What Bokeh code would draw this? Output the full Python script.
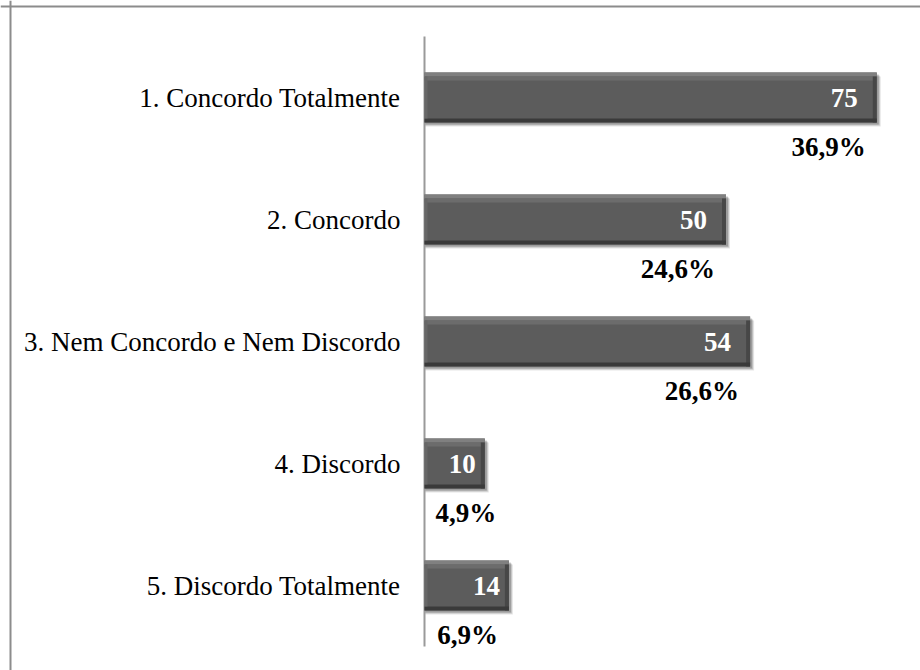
from bokeh.plotting import figure
from bokeh.models import ColumnDataSource, Range1d, Span
from bokeh.core.properties import value
from bokeh.embed import file_html
from bokeh.resources import INLINE

categories = ["1. Concordo Totalmente", "2. Concordo", "3. Nem Concordo e Nem Discordo",
              "4. Discordo", "5. Discordo Totalmente"]
counts = [75, 50, 54, 10, 14]
percents = ["36,9%", "24,6%", "26,6%", "4,9%", "6,9%"]

W, H = 920, 670
PX_X = 6.03          # pixels per count unit
PX_Y = 122.0         # pixels per category band
AXIS_PX = 424        # x pixel of the category axis
FIRST_PX = 97        # y pixel of first category centre

x0 = -AXIS_PX / PX_X
x1 = (W - AXIS_PX) / PX_X
y1 = FIRST_PX / PX_Y
y0 = -(H - FIRST_PX) / PX_Y

p = figure(width=W, height=H, output_backend="svg", toolbar_location=None,
           x_range=Range1d(x0, x1), y_range=Range1d(y0, y1),
           min_border=0, min_border_left=0, min_border_right=0,
           min_border_top=0, min_border_bottom=0)
p.axis.visible = False
p.grid.visible = False
p.outline_line_color = None
p.background_fill_color = "white"
p.border_fill_color = "white"

ys = [-i for i in range(len(categories))]
bh = 50 / PX_Y
dxp = 1 / PX_X
dyp = 1 / PX_Y

src = ColumnDataSource(dict(
    y=ys, v=counts, cat=categories, pct=percents,
    zero=[0] * len(counts),
    top=[y + bh / 2 for y in ys], bot=[y - bh / 2 for y in ys],
))

# page border (top and left only)
p.add_layout(Span(location=x0 + 10 / PX_X, dimension="height", line_color="#8c8c8c", line_width=2))
p.add_layout(Span(location=y1 - 6 / PX_Y, dimension="width", line_color="#8c8c8c", line_width=2))

# category axis line
p.segment(x0=0, y0=0.5, x1=0, y1=-(len(categories) - 0.5), line_color="#9a9a9a", line_width=2)

# soft shadow
for k, a in [(4, 0.10), (3, 0.15), (2, 0.2)]:
    p.quad(left=[dxp * 1] * 5, right=[v + k * dxp for v in counts],
           top=[y + bh / 2 - k * dyp for y in ys], bottom=[y - bh / 2 - k * dyp for y in ys],
           fill_color="black", fill_alpha=a, line_color=None)

# main bars
p.hbar(y="y", left="zero", right="v", height=bh, source=src,
       fill_color="#5c5c5c", line_color=None)
# bevel: top light strip, bottom & right dark strips
p.quad(left=[0] * 5, right=counts, top=src.data["top"],
       bottom=[t - 4 * dyp for t in src.data["top"]], fill_color="#808080", line_color=None)
p.quad(left=[0] * 5, right=counts, top=[t - 4 * dyp for t in src.data["top"]],
       bottom=[t - 8 * dyp for t in src.data["top"]], fill_color="#6c6c6c", line_color=None)
p.quad(left=[v - 4 * dxp for v in counts], right=counts, top=[t - 4 * dyp for t in src.data["top"]],
       bottom=src.data["bot"], fill_color="#474747", line_color=None)
p.quad(left=[0] * 5, right=counts, top=[b + 4 * dyp for b in src.data["bot"]],
       bottom=src.data["bot"], fill_color="#3a3a3a", line_color=None)
p.quad(left=[0] * 5, right=[3 * dxp] * 5, top=[t - 4 * dyp for t in src.data["top"]],
       bottom=[b + 4 * dyp for b in src.data["bot"]], fill_color="#676767", line_color=None)

FONT = value("Liberation Serif")
FS = "27px"

# category labels
p.text(x=0, y="y", text="cat", source=src, x_offset=-24, text_align="right",
       text_baseline="middle", text_font=FONT, text_font_size=FS, text_color="black")

# value labels inside the bars
big = [i for i, v in enumerate(counts) if v >= 20]
small = [i for i, v in enumerate(counts) if v < 20]
for idx, off in [(big, -19), (small, -9)]:
    p.text(x=[counts[i] for i in idx], y=[ys[i] for i in idx], text=[str(counts[i]) for i in idx],
           x_offset=off, text_align="right", text_baseline="middle", text_font=FONT,
           text_font_style="bold", text_font_size=FS, text_color="white")

# percent labels below the bars
right_lab = [i for i, v in enumerate(counts) if v >= 12]
left_lab = [i for i, v in enumerate(counts) if v < 12]
p.text(x=[counts[i] for i in right_lab], y=[ys[i] for i in right_lab],
       text=[percents[i] for i in right_lab], x_offset=-11, y_offset=49,
       text_align="right", text_baseline="middle", text_font=FONT, text_font_style="bold",
       text_font_size=FS, text_color="black")
p.text(x=[0] * len(left_lab), y=[ys[i] for i in left_lab],
       text=[percents[i] for i in left_lab], x_offset=11, y_offset=49,
       text_align="left", text_baseline="middle", text_font=FONT, text_font_style="bold",
       text_font_size=FS, text_color="black")

open("out.html", "w").write(file_html(p, INLINE))
